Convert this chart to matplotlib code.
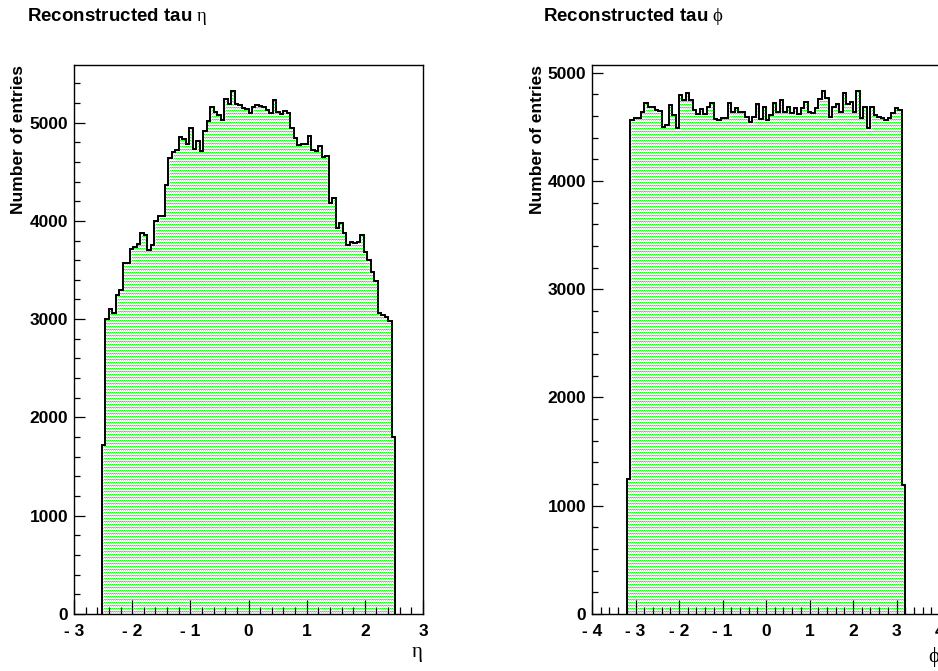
import numpy as np
import matplotlib
matplotlib.use("Agg")
import matplotlib.pyplot as plt
from matplotlib.ticker import MultipleLocator, FuncFormatter

W, H, DPI = 938, 671, 100

# Histogram definitions (range and binning) and bin contents
eta_range = (-3.0, 3.0)
eta_nbins = 100
eta_first = 8          # first populated bin index
eta_counts = [
    1720, 3000, 3100, 3060, 3250, 3300, 3575, 3575, 3715, 3730,
    3760, 3875, 3860, 3700, 3750, 3995, 4045, 4045, 4370, 4640,
    4705, 4725, 4855, 4830, 4785, 4945, 4730, 4810, 4710, 4915,
    5015, 5160, 5110, 5080, 5025, 5245, 5190, 5320, 5185, 5175,
    5145, 5140, 5095, 5155, 5175, 5165, 5155, 5130, 5095, 5230,
    5110, 5085, 5115, 5095, 4945, 4845, 4775, 4780, 4785, 4865,
    4720, 4710, 4760, 4650, 4665, 4185, 4235, 3930, 3980, 3875,
    3750, 3780, 3775, 3790, 3860, 3680, 3605, 3480, 3390, 3065,
    3045, 3025, 2985, 1800,
]

phi_range = (-4.0, 4.0)
phi_nbins = 100
phi_first = 10
phi_counts = [
    1250,
    4562, 4583, 4577, 4638, 4716, 4679, 4685, 4654, 4645, 4500,
    4515, 4700, 4608, 4491, 4792, 4746, 4808, 4746, 4654, 4614,
    4663, 4614, 4679, 4716, 4571, 4562, 4577, 4583, 4722, 4638,
    4670, 4632, 4638, 4592, 4546, 4592, 4706, 4571, 4679, 4562,
    4608, 4716, 4638, 4746, 4632, 4685, 4629, 4670, 4614, 4676,
    4731, 4632, 4623, 4676, 4755, 4829, 4762, 4592, 4685, 4706,
    4632, 4808, 4706, 4731, 4632, 4829, 4577, 4685, 4485, 4685,
    4608, 4592, 4577, 4562, 4583, 4623, 4676, 4654,
    1190,
]

titles = [r"Reconstructed tau $\mathrm{\eta}$", r"Reconstructed tau $\mathrm{\phi}$"]
xlabels = [r"$\mathrm{\eta}$", r"$\mathrm{\phi}$"]
ylabel = "Number of entries"

plt.rcParams["font.family"] = ["Liberation Sans", "DejaVu Sans"]
plt.rcParams["mathtext.fontset"] = "custom"
plt.rcParams["mathtext.rm"] = "Liberation Serif"
plt.rcParams["mathtext.it"] = "Liberation Serif:italic"
plt.rcParams["mathtext.bf"] = "Liberation Serif:bold"

fig = plt.figure(figsize=(W / DPI, H / DPI), dpi=DPI, facecolor="white")


def px_rect(x0, y0, x1, y1):
    """Axes rectangle from pixel corners (top-left origin)."""
    return [x0 / W, 1 - y1 / H, (x1 - x0) / W, (y1 - y0) / H]


def dot_texture(ax, clip_patch):
    """Green dotted fill pattern clipped to the histogram area."""
    pos = ax.get_position()
    w = int(round(pos.width * W))
    h = int(round(pos.height * H))
    img = np.zeros((h, w, 4))
    yy, xx = np.mgrid[0:h, 0:w]
    row_a = (yy % 3 == 0) & (xx % 2 == 0)
    row_b = (yy % 3 == 1) & (xx % 2 == 1)
    img[row_a] = (0.1, 1.0, 0.1, 1.0)
    img[row_b] = (0.55, 0.78, 0.55, 0.55)
    x0, x1 = ax.get_xlim()
    y0, y1 = ax.get_ylim()
    im = ax.imshow(img, extent=(x0, x1, y0, y1), origin="upper",
                   aspect="auto", interpolation="nearest", zorder=1)
    im.set_clip_path(clip_patch)


def x_fmt(v, _):
    n = int(round(v))
    return f"- {abs(n)}" if n < 0 else f"{n}"


def draw_hist(rect, counts, rng, nbins, first, title, xlabel, title_px,
              ylabel_px, xlabel_px):
    ax = fig.add_axes(rect)
    edges_all = np.linspace(rng[0], rng[1], nbins + 1)
    vals = np.asarray(counts, dtype=float)
    edges = edges_all[first:first + len(vals) + 1]

    ax.set_xlim(*rng)
    ax.set_ylim(0, 1.05 * vals.max())

    fill = ax.stairs(vals, edges, baseline=0, fill=True,
                     facecolor="none", edgecolor="none", zorder=1)
    dot_texture(ax, fill)
    ax.stairs(vals, edges, baseline=0, color="black", linewidth=1.4,
              zorder=3)

    ax.xaxis.set_major_locator(MultipleLocator(1))
    ax.xaxis.set_minor_locator(MultipleLocator(0.2))
    ax.yaxis.set_major_locator(MultipleLocator(1000))
    ax.yaxis.set_minor_locator(MultipleLocator(200))
    ax.xaxis.set_major_formatter(FuncFormatter(x_fmt))
    ax.yaxis.set_major_formatter(FuncFormatter(lambda v, _: f"{int(round(v))}"))

    ax.tick_params(which="both", direction="in", top=False, right=False,
                   width=0.9, colors="black")
    ax.tick_params(axis="x", which="major", length=9.9, pad=7,
                   labelsize=12.5)
    ax.tick_params(axis="x", which="minor", length=4.9)
    ax.tick_params(axis="y", which="major", length=7.9, pad=4.2,
                   labelsize=12.5)
    ax.tick_params(axis="y", which="minor", length=4.2)
    for lab in ax.get_xticklabels() + ax.get_yticklabels():
        lab.set_fontweight("bold")
    for sp in ax.spines.values():
        sp.set_linewidth(1.0)
    ax.set_axisbelow(False)

    fig.text(title_px[0] / W, 1 - title_px[1] / H, title,
             fontsize=13.5, fontweight="bold", ha="left", va="baseline")
    fig.text(ylabel_px[0] / W, 1 - ylabel_px[1] / H, ylabel,
             fontsize=12.5, fontweight="bold", rotation=90,
             ha="right", va="top")
    fig.text(xlabel_px[0] / W, 1 - xlabel_px[1] / H, xlabel,
             fontsize=15, ha="right", va="baseline")
    return ax


draw_hist(px_rect(74, 65, 423, 614), eta_counts, eta_range, eta_nbins,
          eta_first, titles[0], xlabels[0], (27, 21), (26.5, 65), (423, 657))
draw_hist(px_rect(592, 65, 940, 614), phi_counts, phi_range, phi_nbins,
          phi_first, titles[1], xlabels[1], (543, 21), (544.5, 65), (940, 662))

fig.savefig("out.png", dpi=DPI, facecolor="white")
